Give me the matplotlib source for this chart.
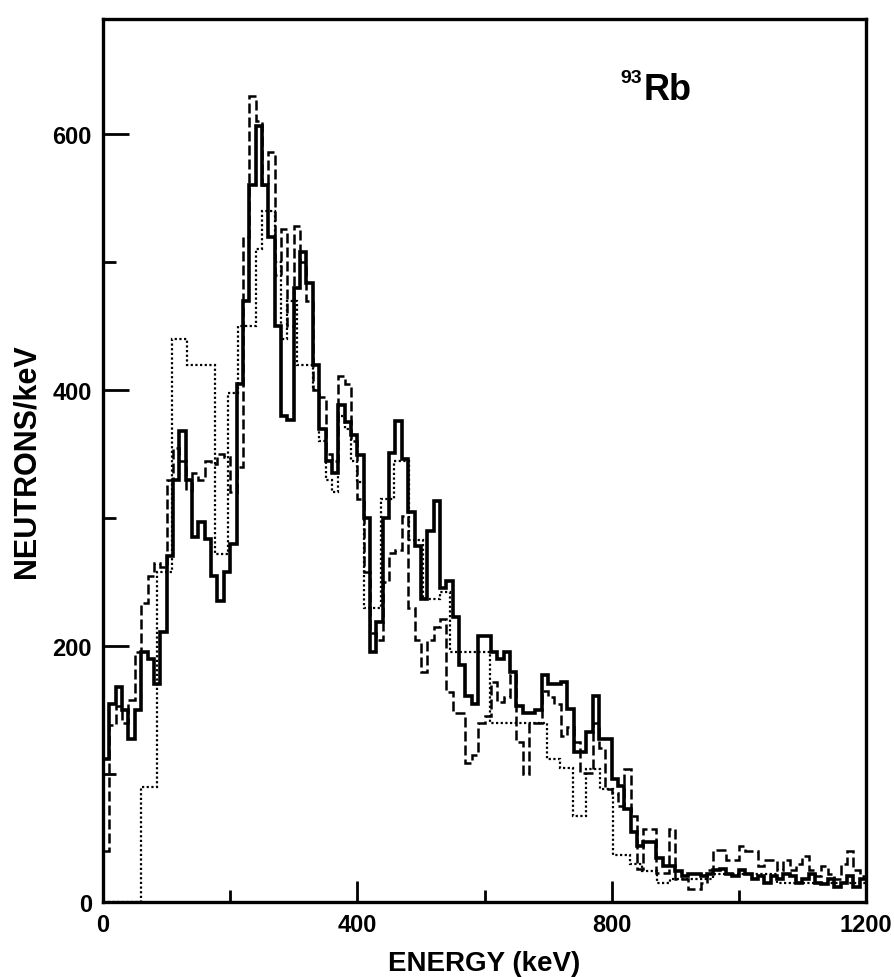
import numpy as np
import matplotlib
matplotlib.use("Agg")
import matplotlib.pyplot as plt
from matplotlib.ticker import MultipleLocator

plt.rcParams['font.family'] = ['Liberation Sans', 'DejaVu Sans']

# ---- data (neutrons/keV in 10 keV bins, 0..1200 keV) ----
bin_edges = list(range(0, 1210, 10))

solid_counts = [
    112, 155, 168, 150, 127, 150, 195, 190, 170, 211,
    270, 330, 368, 330, 285, 297, 284, 255, 235, 258,
    280, 405, 470, 560, 606, 560, 520, 450, 380, 377,
    480, 508, 484, 420, 370, 345, 335, 388, 375, 365,
    349, 300, 195, 219, 300, 351, 376, 346, 305, 278,
    237, 290, 313, 245, 251, 223, 185, 161, 155, 208,
    208, 195, 190, 195, 180, 153, 148, 148, 150, 177,
    170, 170, 172, 151, 117, 117, 133, 161, 127, 127,
    96, 91, 73, 55, 44, 47, 47, 34, 28, 28,
    24, 20, 22, 22, 20, 22, 25, 26, 22, 20,
    25, 22, 18, 20, 15, 20, 18, 22, 20, 15,
    18, 22, 15, 14, 18, 12, 15, 20, 12, 18,
]

dashed_counts = [
    40, 138, 153, 140, 158, 195, 234, 255, 265, 262,
    330, 355, 345, 322, 335, 330, 345, 342, 350, 348,
    320, 340, 520, 630, 610, 560, 586, 490, 526, 450,
    528, 500, 470, 400, 395, 350, 345, 411, 405, 360,
    315, 258, 210, 205, 250, 273, 275, 302, 230, 205,
    180, 205, 215, 221, 164, 148, 148, 109, 115, 140,
    145, 172, 156, 160, 177, 125, 100, 140, 140, 165,
    160, 155, 130, 137, 125, 101, 101, 140, 120, 88,
    85, 75, 104, 67, 26, 57, 57, 23, 23, 57,
    18, 18, 10, 10, 15, 25, 41, 41, 33, 33,
    44, 40, 40, 28, 33, 33, 25, 33, 25, 30,
    36, 25, 20, 28, 22, 18, 30, 40, 25, 20,
]

# dotted spectrum has coarser, irregular bins
dotted_edges = [0, 60, 85, 108, 132, 176, 196, 212, 240, 250, 270, 280, 290,
                305, 330, 340, 350, 360, 370, 380, 390, 400, 410, 437, 457,
                481, 503, 530, 545, 608, 629, 698, 719, 739, 759, 781, 802,
                829, 847, 871, 892, 960, 1060, 1200]
dotted_counts = [0, 90, 258, 440, 420, 272, 398, 450, 510, 540, 500, 440,
                 470, 420, 400, 360, 330, 320, 380, 370, 345, 328, 230, 315,
                 345, 283, 237, 242, 195, 140, 140, 112, 105, 67, 104, 88,
                 37, 30, 24, 15, 18, 22, 15]

x_ticks = [0, 400, 800, 1200]
y_ticks = [0, 200, 400, 600]

# ---- figure ----
fig = plt.figure(figsize=(8.95, 9.78), dpi=100)
ax = fig.add_axes([103/895, 1-903/978, (866-103)/895, (903-20)/978])

ax.stairs(dotted_counts, dotted_edges, color='black', lw=1.6,
          linestyle=(0, (1, 1.1)), baseline=None)
ax.stairs(dashed_counts, bin_edges, color='black', lw=1.8,
          linestyle=(0, (4, 1.6)), baseline=None)
ax.stairs(solid_counts, bin_edges, color='black', lw=2.6, baseline=None)

ax.set_xlim(0, 1200)
ax.set_ylim(0, 690)

ax.set_xticks(x_ticks)
ax.set_yticks(y_ticks)
ax.xaxis.set_minor_locator(MultipleLocator(200))
ax.yaxis.set_minor_locator(MultipleLocator(100))
ax.tick_params(axis='both', which='major', direction='in', width=2,
               labelsize=17, pad=8)
ax.tick_params(axis='y', which='major', length=19)
ax.tick_params(axis='x', which='major', length=15)
ax.tick_params(axis='both', which='minor', direction='in', width=2, length=9)
ax.tick_params(top=False, right=False, which='both')
for lab in ax.get_xticklabels() + ax.get_yticklabels():
    lab.set_fontweight('bold')

for sp in ax.spines.values():
    sp.set_linewidth(2.4)

ax.set_xlabel('ENERGY (keV)', fontsize=20, fontweight='bold', labelpad=10)
ax.set_ylabel('NEUTRONS/keV', fontsize=22, fontweight='bold', labelpad=8)

ax.text(0.708, 0.909, 'Rb', transform=ax.transAxes, fontsize=26,
        fontweight='bold', ha='left', va='baseline')
ax.text(0.706, 0.929, '93', transform=ax.transAxes, fontsize=14,
        fontweight='bold', ha='right', va='baseline')

fig.savefig('out.png', dpi=100)
